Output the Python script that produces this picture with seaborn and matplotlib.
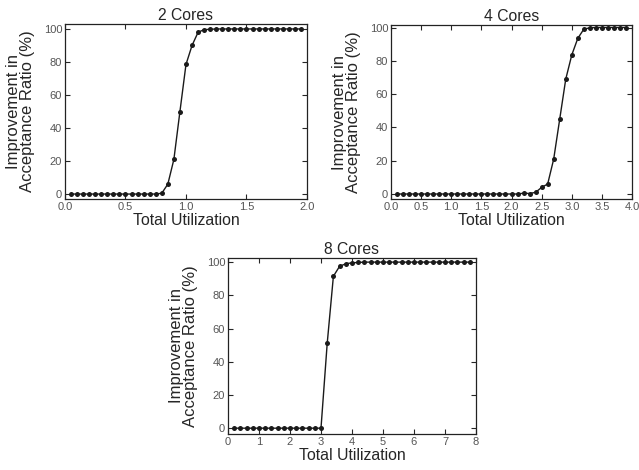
import numpy as np
import pandas as pd
import matplotlib
matplotlib.use("Agg")
import matplotlib.pyplot as plt
import seaborn as sns

sns.set_theme(style="ticks")
plt.rcParams['font.family'] = ['Liberation Sans', 'DejaVu Sans']

# 2 cores
x2 = [0.05, 0.10, 0.15, 0.20, 0.25, 0.30, 0.35, 0.40, 0.45, 0.50, 0.55, 0.60, 0.65,
      0.70, 0.75, 0.80, 0.85, 0.90, 0.95, 1.00, 1.05, 1.10, 1.15, 1.20, 1.25, 1.30,
      1.35, 1.40, 1.45, 1.50, 1.55, 1.60, 1.65, 1.70, 1.75, 1.80, 1.85, 1.90, 1.95]
y2 = [0, 0, 0, 0, 0, 0, 0, 0, 0, 0, 0, 0, 0,
      0, 0, 0.5, 6, 21, 50, 78.5, 90, 98, 99.6, 99.8, 100, 100,
      100, 100, 100, 100, 100, 100, 100, 100, 100, 100, 100, 100, 100]

# 4 cores
x4 = [0.1, 0.2, 0.3, 0.4, 0.5, 0.6, 0.7, 0.8, 0.9, 1.0, 1.1, 1.2, 1.3,
      1.4, 1.5, 1.6, 1.7, 1.8, 1.9, 2.0, 2.1, 2.2, 2.3, 2.4, 2.5, 2.6,
      2.7, 2.8, 2.9, 3.0, 3.1, 3.2, 3.3, 3.4, 3.5, 3.6, 3.7, 3.8, 3.9]
y4 = [0, 0, 0, 0, 0, 0, 0, 0, 0, 0, 0, 0, 0,
      0, 0, 0, 0, 0, 0, 0, 0, 0.5, 0.3, 1, 4, 6,
      21, 45, 69, 83.5, 93.5, 99, 99.8, 100, 100, 100, 100, 100, 100]

# 8 cores
x8 = [0.2, 0.4, 0.6, 0.8, 1.0, 1.2, 1.4, 1.6, 1.8, 2.0, 2.2, 2.4, 2.6,
      2.8, 3.0, 3.2, 3.4, 3.6, 3.8, 4.0, 4.2, 4.4, 4.6, 4.8, 5.0, 5.2,
      5.4, 5.6, 5.8, 6.0, 6.2, 6.4, 6.6, 6.8, 7.0, 7.2, 7.4, 7.6, 7.8]
y8 = [0, 0, 0, 0, 0, 0, 0, 0, 0, 0, 0, 0, 0,
      0, 0, 51, 91.5, 97.5, 99, 99.6, 99.8, 100, 100, 100, 100, 100,
      100, 100, 100, 100, 100, 100, 100, 100, 100, 100, 100, 100, 100]

titles = ["2 Cores", "4 Cores", "8 Cores"]
xticks = [[0.0, 0.5, 1.0, 1.5, 2.0],
          [0.0, 0.5, 1.0, 1.5, 2.0, 2.5, 3.0, 3.5, 4.0],
          [0, 1, 2, 3, 4, 5, 6, 7, 8]]
xtick_labels = [["0.0", "0.5", "1.0", "1.5", "2.0"],
                ["0.0", "0.5", "1.0", "1.5", "2.0", "2.5", "3.0", "3.5", "4.0"],
                ["0", "1", "2", "3", "4", "5", "6", "7", "8"]]
xlims = [(0, 2), (0, 4), (0, 8)]
yticks = [0, 20, 40, 60, 80, 100]

fig = plt.figure(figsize=(6.39, 4.70), dpi=100)
rects = [[0.1017, 0.5766, 0.3787, 0.3723],
         [0.6119, 0.5766, 0.3772, 0.3702],
         [0.3568, 0.0766, 0.3881, 0.3745]]
ylims = [(-3, 103), (-3, 101.5), (-3.5, 102.5)]

data = [(x2, y2), (x4, y4), (x8, y8)]
for i, (xs, ys) in enumerate(data):
    ax = fig.add_axes(rects[i])
    df = pd.DataFrame({"x": xs, "y": ys})
    sns.lineplot(data=df, x="x", y="y", ax=ax, color="#1a1a1a", linewidth=1.0,
                 marker="o", markersize=3.6, markeredgewidth=0, markerfacecolor="#1a1a1a")
    ax.set_xlim(*xlims[i])
    ax.set_ylim(*ylims[i])
    ax.set_xticks(xticks[i])
    ax.set_xticklabels(xtick_labels[i])
    ax.set_yticks(yticks)
    ax.tick_params(direction="in", length=3.5, width=0.8, top=True, right=True,
                   labelsize=8, labelcolor="#555555", pad=2)
    for s in ax.spines.values():
        s.set_linewidth(0.9)
        s.set_color("#222222")
    ax.set_title(titles[i], fontsize=11.3, pad=3)
    ax.set_xlabel("Total Utilization", fontsize=11.4, labelpad=1)
    ax.set_ylabel("Improvement in\nAcceptance Ratio (%)", fontsize=12, labelpad=6,
                  linespacing=0.95)

fig.savefig("out.png", dpi=100)
